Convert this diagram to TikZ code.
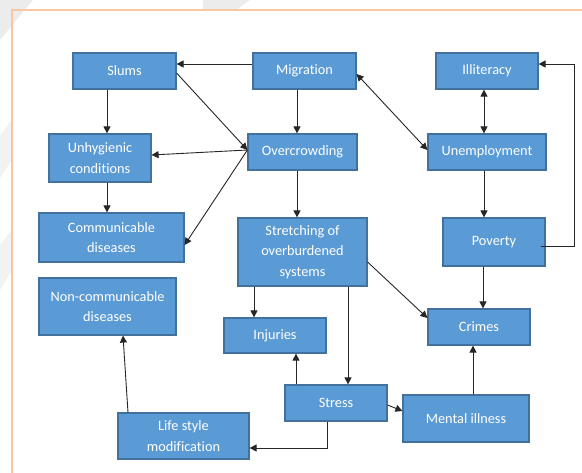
\documentclass[tikz,border=0pt]{standalone}
\usepackage{fontspec}
\setmainfont{Carlito}[Ligatures=NoCommon]
\usepackage{tikz}
\usetikzlibrary{positioning,arrows.meta,calc}
\definecolor{mgblue}{HTML}{5B9BD5}
\definecolor{mgedge}{HTML}{41719C}
\definecolor{mgink}{HTML}{262626}
\definecolor{mgframe}{HTML}{F7C6A3}
\definecolor{mgmark}{HTML}{ECECEC}

\begin{document}
\begin{tikzpicture}[
  x=1pt, y=-1pt,
  font=\fontsize{14.3}{20.5}\selectfont,
  box/.style={draw=mgedge, line width=1.2pt, fill=mgblue, text=white,
    align=center, inner sep=0pt},
  flow/.style={-{Triangle[length=7pt,width=7pt]}, line width=0.9pt, mgink},
  both/.style={{Triangle[length=7pt,width=7pt]}-{Triangle[length=7pt,width=7pt]},
    line width=0.9pt, mgink},
  ]
  \useasboundingbox (0,0) rectangle (582,473);
  % faint watermark outside the frame
  \fill[mgmark] (0,0) -- (33,0) -- (0,40) -- cycle;
  \fill[mgmark] (203,0) -- (250,0) -- (236,10) -- (203,10) -- cycle;
  \fill[mgmark!70] (0,135) -- (12,120) -- (12,160) -- (0,178) -- cycle;
  \fill[mgmark!70] (0,245) -- (12,230) -- (12,270) -- (0,290) -- cycle;
  \draw[mgframe, line width=1.5pt] (582,10) -- (12,10) -- (12,473);

  % boxes
  \node[box, minimum width=103pt, minimum height=36pt] (slums) at (124.5,71) {Slums};
  \node[box, minimum width=103pt, minimum height=36pt] (mig) at (304.5,71) {Migration};
  \node[box, minimum width=102pt, minimum height=36pt] (illit) at (487,71) {Illiteracy};
  \node[box, minimum width=102pt, minimum height=48pt] (unhyg) at (100,158) {Unhygienic\\conditions};
  \node[box, minimum width=109pt, minimum height=36pt] (overc) at (302.5,152) {Overcrowding};
  \node[box, minimum width=118pt, minimum height=36pt] (unemp) at (487,152) {Unemployment};
  \node[box, minimum width=145pt, minimum height=49pt] (comm) at (111.5,237.5) {Communicable\\diseases};
  \node[box, minimum width=129pt, minimum height=68pt] (stretch) at (302.5,252) {Stretching of\\overburdened\\systems};
  \node[box, minimum width=102pt, minimum height=48pt] (pov) at (494,242) {Poverty};
  \node[box, minimum width=137pt, minimum height=57pt] (noncomm) at (107.5,306.5) {Non-communicable\\diseases};
  \node[box, minimum width=102pt, minimum height=35pt] (inj) at (275,335.5) {Injuries};
  \node[box, minimum width=102pt, minimum height=36pt] (crimes) at (479,327) {Crimes};
  \node[box, minimum width=102pt, minimum height=36pt] (stress) at (336,403) {Stress};
  \node[box, minimum width=126pt, minimum height=47pt] (mental) at (466,418.5) {Mental illness};
  \node[box, minimum width=131pt, minimum height=46pt] (life) at (183.5,436) {Life style\\modification};

  % connectors
  \draw[flow] ([yshift=7pt]mig.west) -- ([yshift=7pt]slums.east);
  \draw[flow] ([xshift=7pt]unhyg.north |- slums.south) -- ([xshift=7pt]unhyg.north);
  \draw[flow] ([yshift=-2pt]slums.east) -- ([yshift=2pt]overc.west);
  \draw[flow] ([yshift=2pt]overc.west) -- ([yshift=3pt]unhyg.east);
  \draw[flow] ([yshift=2pt]overc.west) -- ([yshift=-7.5pt]comm.east);
  \draw[flow] ([xshift=7pt]unhyg.south) -- ([xshift=7pt]unhyg.south |- comm.north);
  \draw[flow] ([xshift=-7.5pt]mig.south) -- ([xshift=-7.5pt]mig.south |- overc.north);
  \draw[both] ([yshift=-3pt]mig.east) -- ([yshift=2pt]unemp.west);
  \draw[both] ([xshift=-3pt]illit.south) -- ([xshift=-3pt]illit.south |- unemp.north);
  \draw[flow] ([xshift=-3pt]unemp.south) -- ([xshift=-3pt]unemp.south |- pov.north);
  \draw[flow] ([xshift=-5pt,yshift=-4pt]pov.east) -| ([xshift=36pt,yshift=7pt]illit.east)
    -- ([yshift=7pt]illit.east);
  \draw[flow] ([xshift=-5.5pt]overc.south) -- ([xshift=-5.5pt]overc.south |- stretch.north);
  \draw[flow] ([xshift=-48.5pt]stretch.south) -- ([xshift=-48.5pt]stretch.south |- inj.north);
  \draw[flow] ([yshift=-10pt]stretch.east) -- ([yshift=9pt]crimes.west);
  \draw[flow] ([xshift=45.5pt]stretch.south) -- ([xshift=45.5pt]stretch.south |- stress.north);
  \draw[flow] ([xshift=-11pt]pov.south) -- ([xshift=-11pt]pov.south |- crimes.north);
  \draw[flow] ([xshift=-40pt]stress.north) -- ([xshift=-40pt]stress.north |- inj.south);
  \draw[flow] ([yshift=-2pt]stress.east) -- ([yshift=7.5pt]mental.west);
  \draw[flow] ([xshift=7pt]mental.north) -- ([xshift=7pt]mental.north |- crimes.south);
  \draw[flow] ([xshift=-9pt]stress.south) |- ([yshift=-12pt]life.east);
  \draw[flow] ([xshift=-55.5pt]life.north) -- ([xshift=15.5pt]noncomm.south);
\end{tikzpicture}
\end{document}
